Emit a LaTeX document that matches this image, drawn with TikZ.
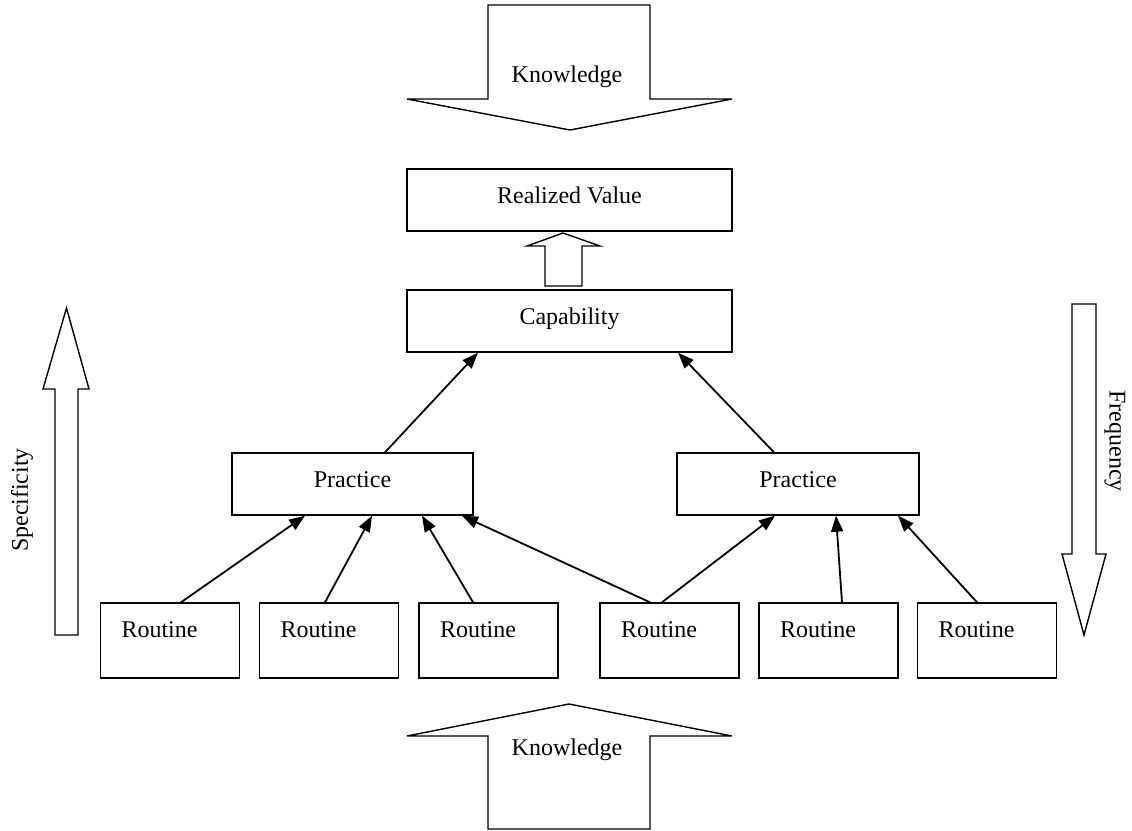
\documentclass[tikz,border=0pt]{standalone}
\usepackage{fontspec}
\setmainfont{Liberation Serif}
\usetikzlibrary{arrows.meta}

\begin{document}
\begin{tikzpicture}[x=0.5pt,y=-0.5pt,>={Triangle[length=8pt,width=6pt]},
  font=\fontsize{12}{14}\selectfont,
  box/.style={draw,line width=0.7pt,inner ysep=8.5pt,text height=8.5pt,
    text depth=5.5pt,minimum width=#1},
  box/.default=162.5pt,
  routine/.style={draw,line width=0.7pt,inner xsep=10.5pt,text width=48.5pt,
    align=left,inner ysep=8.5pt,text height=8.5pt,text depth=12pt},
  link/.style={->,line width=0.9pt},
  bigarrow/.style={draw,line width=0.7pt,line join=miter}]
\useasboundingbox (0,0) rectangle (1132,831);

\coordinate (Ktop) at (570,130);
\coordinate (Kbot) at (569,704);
\coordinate (Vtip) at (563,233);
\coordinate (Stip) at (66.5,308);
\coordinate (Ftip) at (1084,635);

% Knowledge coming in from above and from below.
\draw[bigarrow] (488,5) -- (650,5) -- (650,99) -- (732,99) -- (Ktop)
  -- (407,99) -- (488,99) -- cycle;
\node (know1) at (567,77) {Knowledge};
\draw[bigarrow] (488,829) -- (650,829) -- (650,736) -- (732,736) -- (Kbot)
  -- (407,736) -- (488,736) -- cycle;
\node (know2) at (567,750) {Knowledge};

% Side scales.
\draw[bigarrow] (55,635) -- (78,635) -- (78,389) -- (89,389) -- (Stip)
  -- (43,389) -- (55,389) -- cycle;
\node[rotate=90] (spec) at (22,500) {Specificity};
\draw[bigarrow] (1072,304) -- (1096,304) -- (1096,554) -- (1106,554) -- (Ftip)
  -- (1062,554) -- (1072,554) -- cycle;
\node[rotate=-90] (freq) at (1115,441) {Frequency};

% Boxes.
\node[box] (V) at (569.5,200) {Realized Value};
\node[box] (C) at (569.5,321) {Capability};
\node[box=120.5pt] (P1) at (352.5,484) {Practice};
\node[box=121pt] (P2) at (798,484) {Practice};
\node[routine] (R1) at (170,640.5) {Routine};
\node[routine] (R2) at (329,640.5) {Routine};
\node[routine] (R3) at (488.5,640.5) {Routine};
\node[routine] (R4) at (669.5,640.5) {Routine};
\node[routine] (R5) at (828.5,640.5) {Routine};
\node[routine] (R6) at (987,640.5) {Routine};

% Capability feeds realized value.
\draw[bigarrow] (545,286) -- (582,286) -- (582,246) -- (600,246) -- (Vtip)
  -- (527,246) -- (545,246) -- cycle;

% Routines build practices, practices build capability.
\draw[link] ([xshift=16.25pt]P1.north) -- ([xshift=-45.75pt]C.south);
\draw[link] ([xshift=-12pt]P2.north) -- ([xshift=54.25pt]C.south);
\draw[link] ([xshift=5.5pt]R1.north) -- ([xshift=-23.75pt]P1.south);
\draw[link] ([xshift=-2pt]R2.north) -- ([xshift=9.75pt]P1.south);
\draw[link] ([xshift=-7.75pt]R3.north) -- ([xshift=34.75pt]P1.south);
\draw[link] ([xshift=-9.75pt]R4.north) -- ([xshift=54.75pt]P1.south);
\draw[link] ([xshift=-3.75pt]R4.north) -- ([xshift=-11.5pt]P2.south);
\draw[link] ([xshift=6.75pt]R5.north) -- ([xshift=19pt]P2.south);
\draw[link] ([xshift=-5pt]R6.north) -- ([xshift=50pt]P2.south);
\end{tikzpicture}
\end{document}
